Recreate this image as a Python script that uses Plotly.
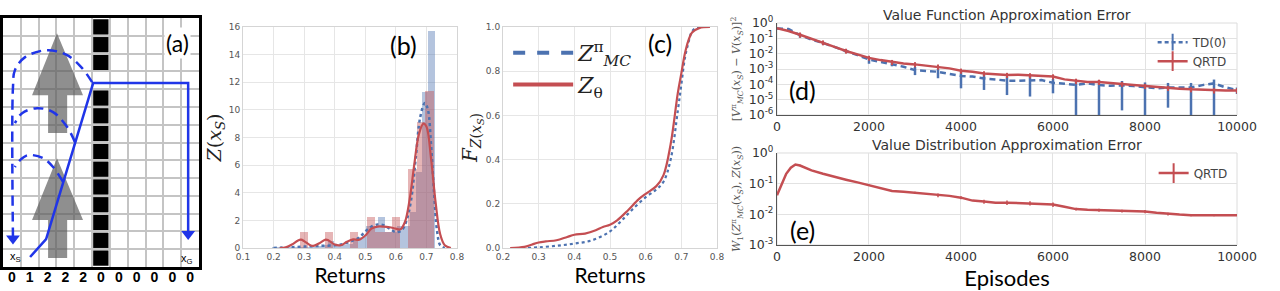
import plotly.graph_objects as go

# ---------------- (a) windy gridworld ----------------
grid_cols = 11
grid_rows = 14
wind = ["0", "1", "2", "2", "2", "0", "0", "0", "0", "0", "0"]
wall_column = 5
wall_open_row = 10

wind_arrow_x = [1.63, 3.03, 4.49, 3.6, 3.6, 2.53, 2.53, 1.63]
wind_arrow1_y = [9.66, 13.15, 9.66, 9.66, 7.53, 7.53, 9.66, 9.66]
wind_arrow2_y = [2.64, 6.12, 2.64, 2.64, 0.5, 0.5, 2.64, 2.64]

safe_path_x = [1.52, 2.42, 5.06, 10.39, 10.39]
safe_path_y = [0.56, 1.57, 10.34, 10.34, 1.85]
loop1_x = [5.0, 4.44, 3.6, 2.47, 1.24, 0.67, 0.56, 0.56]
loop1_y = [10.39, 11.18, 11.91, 12.19, 11.8, 11.07, 10.11, 1.6]
loop2_x = [4.04, 3.6, 2.81, 1.91, 1.07, 0.67]
loop2_y = [7.02, 7.87, 8.71, 8.93, 8.65, 8.09]
loop3_x = [3.37, 2.81, 2.25, 1.4, 0.96, 0.67]
loop3_y = [4.78, 5.62, 6.12, 6.29, 6.01, 5.62]
start_label = (0.7, 0.56)
goal_label = (10.34, 0.45)

# ---------------- (b) histogram + density ----------------
red_bar_x = [0.2995, 0.3815, 0.4635, 0.5185, 0.5455, 0.5725, 0.600, 0.6545, 0.682, 0.7095]
red_bar_h = [1.14, 1.14, 1.14, 2.27, 1.14, 1.14, 2.27, 5.7, 9.1, 11.35]
red_bar_w = 0.0273
blue_bar_x = [0.2043, 0.2248, 0.2453, 0.2658, 0.2863, 0.3068, 0.3273, 0.3478, 0.3683,
              0.3888, 0.4093, 0.4298, 0.4503, 0.4708, 0.4913, 0.5118, 0.5323, 0.5528,
              0.5733, 0.5938, 0.6143, 0.6348, 0.6553, 0.6758, 0.6963, 0.7168]
blue_bar_h = [0.05, 0.05, 0.05, 0.05, 0.05, 0.1, 0.1, 0.15, 0.2, 0.5, 0.25, 0.2, 0.3,
              0.55, 0.8, 1.6, 1.6, 2.25, 1.15, 1.15, 1.6, 1.6, 2.6, 5.5, 11.3, 15.7]
blue_bar_w = 0.0205

kde_red_x = [0.22, 0.24, 0.26, 0.28, 0.29, 0.30, 0.32, 0.33, 0.35, 0.37, 0.38, 0.40, 0.42,
             0.44, 0.46, 0.48, 0.50, 0.52, 0.54, 0.56, 0.58, 0.60, 0.615, 0.63, 0.645,
             0.66, 0.675, 0.69, 0.70, 0.715, 0.73, 0.745, 0.76, 0.78]
kde_red_y = [0.0, 0.05, 0.25, 0.55, 0.6, 0.5, 0.2, 0.15, 0.35, 0.6, 0.55, 0.25, 0.2,
             0.45, 0.62, 0.6, 0.9, 1.4, 1.55, 1.55, 1.5, 1.4, 1.35, 1.9, 3.5,
             6.0, 8.2, 9.0, 8.8, 6.5, 3.3, 1.0, 0.2, 0.0]
kde_blue_x = [0.20, 0.25, 0.30, 0.35, 0.40, 0.43, 0.46, 0.48, 0.50, 0.52, 0.54, 0.56,
              0.58, 0.60, 0.62, 0.635, 0.65, 0.665, 0.68, 0.695, 0.705, 0.715, 0.725,
              0.735, 0.745, 0.76]
kde_blue_y = [0.0, 0.05, 0.1, 0.15, 0.2, 0.3, 0.55, 0.75, 1.2, 1.55, 1.7, 1.65,
              1.4, 1.15, 1.3, 2.0, 3.5, 6.5, 9.5, 10.5, 10.0, 7.5, 4.0,
              1.2, 0.2, 0.0]

# ---------------- (c) CDFs ----------------
cdf_red_x = [0.22, 0.26, 0.28, 0.30, 0.32, 0.35, 0.38, 0.40, 0.43, 0.46, 0.48, 0.50, 0.52,
             0.55, 0.58, 0.60, 0.63, 0.65, 0.67, 0.69, 0.70, 0.71, 0.72, 0.73, 0.75, 0.78]
cdf_red_y = [0.0, 0.005, 0.015, 0.025, 0.03, 0.035, 0.05, 0.06, 0.065, 0.08, 0.095, 0.105,
             0.125, 0.17, 0.22, 0.245, 0.28, 0.33, 0.47, 0.7, 0.79, 0.88, 0.94, 0.975,
             0.995, 1.0]
cdf_blue_x = [0.27, 0.30, 0.35, 0.40, 0.45, 0.50, 0.53, 0.56, 0.60, 0.63, 0.65, 0.67, 0.69,
              0.70, 0.71, 0.72, 0.73, 0.745, 0.78]
cdf_blue_y = [0.0, 0.003, 0.01, 0.02, 0.035, 0.075, 0.12, 0.17, 0.23, 0.265, 0.3, 0.4,
              0.62, 0.74, 0.86, 0.93, 0.98, 1.0, 1.0]

# ---------------- (d) value function error ----------------
episodes = [i * 250 for i in range(41)]
td0_err = [0.43, 0.40, 0.16, 0.083, 0.05, 0.028, 0.015, 0.008, 0.0042, 0.003, 0.0021,
           0.0014, 0.00085, 0.00076, 0.00066, 0.00047, 0.00035, 0.00032, 0.00024,
           0.00021, 0.00017, 0.00017, 0.00019, 0.00019, 0.000126, 0.000104, 0.000094,
           0.000115, 0.000089, 0.000081, 0.000085, 0.000077, 0.000063, 0.000055,
           0.000063, 0.000063, 0.000063, 0.000089, 0.000115, 0.000063, 0.000043]
qrtd_err = [0.45, 0.30, 0.17, 0.096, 0.053, 0.028, 0.015, 0.0088, 0.0053, 0.0038, 0.0028,
            0.0023, 0.002, 0.0017, 0.0014, 0.0011, 0.00076, 0.00066, 0.00051, 0.00047,
            0.0004, 0.00042, 0.00038, 0.00035, 0.00032, 0.00021, 0.000163, 0.00014,
            0.00014, 0.000115, 0.000104, 0.000089, 0.000077, 0.000063, 0.000057,
            0.000052, 0.000047, 0.000043, 0.000039, 0.000039, 0.000039]
# error bars every 500 episodes (0, 500, ..., 10000)
td0_bar_up = [0.0, 0.05, 0.012, 0.004, 0.0015, 0.0006, 0.0005, 0.0004, 0.0004, 0.0002,
              0.00015, 0.00018, 0.0001, 0.0001, 0.0001, 0.00008, 0.00007, 0.00006,
              0.00006, 0.00009, 0.00002]
td0_bar_down = [0.0, 0.05, 0.012, 0.004, 0.002, 0.0006, 0.00045, 0.00041, 0.000295,
                0.000197, 0.00015, 0.000174, 0.0001, 0.0000939, 0.0000889, 0.000083,
                0.0000629, 0.00006, 0.0000629, 0.0001149, 0.00002]
qrtd_bar_up = [0.0, 0.07, 0.02, 0.006, 0.002, 0.0011, 0.0008, 0.00056, 0.0003, 0.0002,
               0.00016, 0.00015, 0.00013, 0.00007, 0.00006, 0.00004, 0.00003, 0.000023,
               0.000019, 0.000016, 0.000016]
qrtd_bar_down = [0.0, 0.06, 0.018, 0.005, 0.0018, 0.001, 0.0007, 0.0005, 0.00027, 0.00018,
                 0.00014, 0.00013, 0.00011, 0.00006, 0.00005, 0.000035, 0.000027, 0.00002,
                 0.000017, 0.000014, 0.000014]

# ---------------- (e) value distribution error ----------------
episodes_e = [0, 100, 200, 300, 400, 500, 750, 1000, 1250, 1500, 1750, 2000, 2250, 2500,
              2750, 3000, 3250, 3500, 3750, 4000, 4250, 4500, 4750, 5000, 5250, 5500,
              5750, 6000, 6250, 6500, 6750, 7000, 7250, 7500, 7750, 8000, 8250, 8500,
              8750, 9000, 9250, 9500, 9750, 10000]
w1_err = [0.042, 0.10, 0.21, 0.33, 0.42, 0.39, 0.27, 0.21, 0.166, 0.135, 0.11, 0.089,
          0.069, 0.058, 0.054, 0.05, 0.048, 0.042, 0.04, 0.035, 0.028, 0.026, 0.024,
          0.024, 0.023, 0.023, 0.021, 0.021, 0.0177, 0.0148, 0.014, 0.0137, 0.0133,
          0.0127, 0.0127, 0.0124, 0.0112, 0.0102, 0.0098, 0.0094, 0.0094, 0.0095,
          0.0095, 0.0094]
w1_bar = [0, 0, 0, 0, 0, 0.02, 0, 0.01, 0, 0.007, 0, 0.005, 0, 0.004, 0, 0.004, 0, 0.006,
          0, 0.004, 0, 0.004, 0, 0.004, 0, 0.0035, 0, 0.0035, 0, 0.0015, 0, 0.0015, 0,
          0.0013, 0, 0.0015, 0, 0.001, 0, 0.0008, 0, 0.0008, 0, 0.0006]

BLUE = "#4C72B0"
RED = "#C44E52"
PATH = "#2035e8"
LABEL_FONT = "Lato"

fig = go.Figure()

# ---- (a) traces ----
for ay in (wind_arrow1_y, wind_arrow2_y):
    fig.add_trace(go.Scatter(x=wind_arrow_x, y=ay, fill="toself", mode="lines",
                             line=dict(width=0, color="rgba(0,0,0,0)"),
                             fillcolor="rgba(90,90,90,0.68)", showlegend=False,
                             hoverinfo="skip", xaxis="x", yaxis="y"))
for lx, ly in ((loop1_x, loop1_y), (loop2_x, loop2_y), (loop3_x, loop3_y)):
    fig.add_trace(go.Scatter(x=lx, y=ly, mode="lines",
                             line=dict(color=PATH, width=2.5, dash="10px,6px",
                                       shape="spline", smoothing=1.0),
                             showlegend=False, xaxis="x", yaxis="y"))
fig.add_trace(go.Scatter(x=safe_path_x, y=safe_path_y, mode="lines",
                         line=dict(color=PATH, width=2.5), showlegend=False,
                         xaxis="x", yaxis="y"))
fig.add_trace(go.Scatter(x=[safe_path_x[-1], loop1_x[-1]], y=[safe_path_y[-1], loop1_y[-1]],
                         mode="markers",
                         marker=dict(symbol="triangle-down", size=12, color=PATH),
                         showlegend=False, xaxis="x", yaxis="y"))

# ---- (b) traces ----
fig.add_trace(go.Bar(x=blue_bar_x, y=blue_bar_h, width=blue_bar_w,
                     marker=dict(color="rgba(76,114,176,0.42)", line=dict(width=0)),
                     showlegend=False, xaxis="x2", yaxis="y2"))
fig.add_trace(go.Bar(x=red_bar_x, y=red_bar_h, width=red_bar_w,
                     marker=dict(color="rgba(196,78,82,0.42)", line=dict(width=0)),
                     showlegend=False, xaxis="x2", yaxis="y2"))
fig.add_trace(go.Scatter(x=kde_blue_x, y=kde_blue_y, mode="lines",
                         line=dict(color=BLUE, width=2.5, dash="dot", shape="spline"),
                         showlegend=False, xaxis="x2", yaxis="y2"))
fig.add_trace(go.Scatter(x=kde_red_x, y=kde_red_y, mode="lines",
                         line=dict(color=RED, width=2.2, shape="spline"),
                         showlegend=False, xaxis="x2", yaxis="y2"))

# ---- (c) traces ----
fig.add_trace(go.Scatter(x=cdf_blue_x, y=cdf_blue_y, mode="lines",
                         line=dict(color=BLUE, width=2.2, dash="dot", shape="spline"),
                         showlegend=False, xaxis="x3", yaxis="y3"))
fig.add_trace(go.Scatter(x=cdf_red_x, y=cdf_red_y, mode="lines",
                         line=dict(color=RED, width=2.2, shape="spline"),
                         showlegend=False, xaxis="x3", yaxis="y3"))
fig.add_trace(go.Scatter(x=[None], y=[None], mode="lines",
                         name="<i>Z</i><sup>π</sup><sub><i>MC</i></sub>",
                         line=dict(color=BLUE, width=4, dash="dash"),
                         legend="legend3", xaxis="x3", yaxis="y3"))
fig.add_trace(go.Scatter(x=[None], y=[None], mode="lines",
                         name="<i>Z</i><sub>θ</sub>",
                         line=dict(color=RED, width=4),
                         legend="legend3", xaxis="x3", yaxis="y3"))

# ---- (d) traces ----
def bars_full(bar_list):
    return [bar_list[i // 2] if i % 2 == 0 else 0.0 for i in range(len(episodes))]

fig.add_trace(go.Scatter(x=episodes, y=td0_err, mode="lines",
                         line=dict(color=BLUE, width=2.5, dash="6px,4px"),
                         error_y=dict(type="data", symmetric=False,
                                      array=bars_full(td0_bar_up),
                                      arrayminus=bars_full(td0_bar_down),
                                      color=BLUE, thickness=2.5, width=0),
                         showlegend=False, xaxis="x4", yaxis="y4"))
fig.add_trace(go.Scatter(x=episodes, y=qrtd_err, mode="lines",
                         line=dict(color=RED, width=2.5),
                         error_y=dict(type="data", symmetric=False,
                                      array=bars_full(qrtd_bar_up),
                                      arrayminus=bars_full(qrtd_bar_down),
                                      color=RED, thickness=2, width=0),
                         showlegend=False, xaxis="x4", yaxis="y4"))
fig.add_trace(go.Scatter(x=[None], y=[None], mode="lines+markers", name="TD(0)",
                         line=dict(color=BLUE, width=2.5, dash="4px,3px"),
                         marker=dict(symbol="line-ns-open", size=12,
                                     line=dict(color=BLUE, width=2)),
                         legend="legend", xaxis="x4", yaxis="y4"))
fig.add_trace(go.Scatter(x=[None], y=[None], mode="lines+markers", name="QRTD",
                         line=dict(color=RED, width=2.5),
                         marker=dict(symbol="line-ns-open", size=14,
                                     line=dict(color=RED, width=2)),
                         legend="legend", xaxis="x4", yaxis="y4"))

# ---- (e) traces ----
fig.add_trace(go.Scatter(x=episodes_e, y=w1_err, mode="lines",
                         line=dict(color=RED, width=2.5),
                         error_y=dict(type="data", array=w1_bar, color=RED,
                                      thickness=1.5, width=0),
                         showlegend=False, xaxis="x5", yaxis="y5"))
fig.add_trace(go.Scatter(x=[None], y=[None], mode="lines+markers", name="QRTD",
                         line=dict(color=RED, width=2.5),
                         marker=dict(symbol="line-ns-open", size=14,
                                     line=dict(color=RED, width=2)),
                         legend="legend2", xaxis="x5", yaxis="y5"))

# ---- shapes: wall blocks in (a), frames for (d), (e) ----
shapes = []
for r in range(grid_rows):
    if r == wall_open_row:
        continue
    shapes.append(dict(type="rect", xref="x", yref="y", layer="below",
                       x0=wall_column + 0.06, x1=wall_column + 0.92,
                       y0=r + 0.07, y1=r + 0.93,
                       fillcolor="black", line=dict(width=0)))
for ax, ya in (("x4", "y4"), ("x5", "y5")):
    shapes.append(dict(type="rect", xref=ax + " domain", yref=ya + " domain",
                       x0=0, x1=1, y0=0, y1=1, layer="below",
                       line=dict(color="#dcdcdc", width=1)))

tick_font_small = dict(family="DejaVu Sans", size=9, color="#555")
tick_font_big = dict(family="DejaVu Sans", size=12.5, color="#333")
grid_light = "#e6e6e6"

log_ticks_d = [1e-6, 1e-5, 1e-4, 1e-3, 1e-2, 1e-1, 1]
log_text_d = ["10<sup>-6</sup>", "10<sup>-5</sup>", "10<sup>-4</sup>", "10<sup>-3</sup>",
              "10<sup>-2</sup>", "10<sup>-1</sup>", "10<sup>0</sup>"]
log_ticks_e = [1e-3, 1e-2, 1e-1, 1]
log_text_e = ["10<sup>-3</sup>", "10<sup>-2</sup>", "10<sup>-1</sup>", "10<sup>0</sup>"]


def label(x, y, text, size=25, family=LABEL_FONT, color="black"):
    return dict(x=x, y=y, xref="paper", yref="paper", text=text, showarrow=False,
                xanchor="center", yanchor="middle",
                font=dict(family=family, size=size, color=color))


fig.update_layout(
    width=1280, height=291,
    margin=dict(l=0, r=0, t=0, b=0, autoexpand=False),
    paper_bgcolor="white", plot_bgcolor="white",
    bargap=0, barmode="overlay",
    shapes=shapes,
    # (a)
    xaxis=dict(domain=[0.00234, 0.1555], anchor="y", range=[0, grid_cols], showgrid=False,
               zeroline=False, tickmode="array", automargin=False,
               tickvals=[c + 0.5 for c in range(grid_cols)], ticktext=wind,
               tickfont=dict(family="Liberation Sans", size=14, color="black", weight="bold"),
               ticks="", ticklabelstandoff=-5, showline=True, mirror=True,
               linecolor="black", linewidth=3,
               minor=dict(showgrid=True, tick0=0, dtick=1, gridcolor="#c4c4c4",
                          gridwidth=1.8, ticks="")),
    yaxis=dict(domain=[0.0825, 0.9381], anchor="x", range=[0, grid_rows], dtick=1,
               showgrid=True, gridcolor="#c4c4c4", gridwidth=1.8, zeroline=False,
               showticklabels=False, ticks="", showline=True, mirror=True,
               linecolor="black", linewidth=3, automargin=False),
    # (b)
    xaxis2=dict(domain=[0.18984, 0.35703], anchor="y2", range=[0.1, 0.8], dtick=0.1,
                tick0=0.1, tickformat=".1f", gridcolor=grid_light, zeroline=False,
                showline=True, mirror=True, linecolor="#d5d5d5", tickfont=tick_font_small,
                ticks="", automargin=False,
                title=dict(text="Returns", font=dict(family=LABEL_FONT, size=21, color="black"),
                           standoff=5)),
    yaxis2=dict(domain=[0.14777, 0.90722], anchor="x2", range=[0, 16], dtick=2,
                gridcolor=grid_light, zeroline=False, showline=True, mirror=True,
                linecolor="#d5d5d5", tickfont=tick_font_small, ticks="", automargin=False,
                title=dict(text="<i>Z</i>(<i>x</i><sub><i>S</i></sub>)",
                           font=dict(family="DejaVu Serif", size=19, color="#222"),
                           standoff=2)),
    # (c)
    xaxis3=dict(domain=[0.39297, 0.56016], anchor="y3", range=[0.2, 0.8], dtick=0.1,
                tick0=0.2, tickformat=".1f", gridcolor=grid_light, zeroline=False,
                showline=True, mirror=True, linecolor="#d5d5d5", tickfont=tick_font_small,
                ticks="", automargin=False,
                title=dict(text="Returns", font=dict(family=LABEL_FONT, size=21, color="black"),
                           standoff=5)),
    yaxis3=dict(domain=[0.14777, 0.90722], anchor="x3", range=[0, 1], dtick=0.2,
                tickformat=".1f", gridcolor=grid_light, zeroline=False, showline=True,
                mirror=True, linecolor="#d5d5d5", tickfont=tick_font_small, ticks="",
                automargin=False,
                title=dict(text="<i>F</i><sub><i>Z</i>(<i>x</i><sub><i>S</i></sub>)</sub>",
                           font=dict(family="DejaVu Serif", size=20, color="#222"),
                           standoff=2)),
    # (d)
    xaxis4=dict(domain=[0.60703, 0.96641], anchor="y4", range=[0, 10000], dtick=2000,
                tickformat="d", gridcolor="#e2e2e2", zeroline=False, showline=True,
                linecolor="#555", linewidth=1.2, tickfont=tick_font_big, ticks="",
                automargin=False),
    yaxis4=dict(domain=[0.60481, 0.92096], anchor="x4", type="log", range=[-6, 0],
                tickmode="array", tickvals=log_ticks_d, ticktext=log_text_d,
                gridcolor="#e2e2e2", zeroline=False, showline=True, linecolor="#555",
                linewidth=1.2, tickfont=tick_font_big, ticks="", automargin=False,
                title=dict(text="[<i>V</i><sup>π</sup><sub><i>MC</i></sub>(<i>x</i><sub><i>S</i></sub>) − <i>V</i>(<i>x</i><sub><i>S</i></sub>)]<sup>2</sup>",
                           font=dict(family="DejaVu Serif", size=11, color="#555"),
                           standoff=5)),
    # (e)
    xaxis5=dict(domain=[0.60703, 0.96641], anchor="y5", range=[0, 10000], dtick=2000,
                tickformat="d", gridcolor="#e2e2e2", zeroline=False, showline=True,
                linecolor="#555", linewidth=1.2, tickfont=tick_font_big, ticks="",
                automargin=False,
                title=dict(text="Episodes", font=dict(family=LABEL_FONT, size=22, color="black"),
                           standoff=2)),
    yaxis5=dict(domain=[0.15808, 0.47423], anchor="x5", type="log", range=[-3, 0],
                tickmode="array", tickvals=log_ticks_e, ticktext=log_text_e,
                gridcolor="#e2e2e2", zeroline=False, showline=True, linecolor="#555",
                linewidth=1.2, tickfont=tick_font_big, ticks="", automargin=False,
                title=dict(text="<i>W</i><sub>1</sub>(<i>Z</i><sup>π</sup><sub><i>MC</i></sub>(<i>x</i><sub><i>S</i></sub>), <i>Z</i>(<i>x</i><sub><i>S</i></sub>))",
                           font=dict(family="DejaVu Serif", size=11, color="#555"),
                           standoff=5)),
    legend=dict(x=0.963, y=0.905, xanchor="right", yanchor="top",
                bgcolor="rgba(0,0,0,0)", font=dict(family="DejaVu Sans", size=12, color="#444"),
                tracegroupgap=0, itemwidth=30),
    legend2=dict(x=0.963, y=0.455, xanchor="right", yanchor="top",
                 bgcolor="rgba(0,0,0,0)", font=dict(family="DejaVu Sans", size=12, color="#444"),
                 itemwidth=30),
    legend3=dict(x=0.397, y=0.89, xanchor="left", yanchor="top",
                 bgcolor="rgba(0,0,0,0)", font=dict(family="DejaVu Serif", size=22, color="#222"),
                 itemwidth=60, tracegroupgap=0),
    annotations=[
        dict(x=9.78, y=12.6, xref="x", yref="y", text="(a)", showarrow=False,
             xanchor="center", yanchor="middle",
             font=dict(family=LABEL_FONT, size=23, color="black"), bgcolor="white"),
        dict(x=start_label[0], y=start_label[1], xref="x", yref="y",
             text="x<sub>S</sub>", showarrow=False, xanchor="center", yanchor="middle",
             font=dict(family="Liberation Sans", size=11, color="black")),
        dict(x=goal_label[0], y=goal_label[1], xref="x", yref="y",
             text="x<sub>G</sub>", showarrow=False, xanchor="center", yanchor="middle",
             font=dict(family="Liberation Sans", size=11, color="black")),
        label(0.315, 0.845, "(b)"),
        label(0.5156, 0.852, "(c)"),
        label(0.6266, 0.691, "(d)"),
        label(0.6266, 0.2096, "(e)"),
        label(0.7867, 0.948, "Value Function Approximation Error", size=14,
              family="DejaVu Sans", color="#333"),
        label(0.7867, 0.502, "Value Distribution Approximation Error", size=14,
              family="DejaVu Sans", color="#333"),
    ],
)

fig.write_html("out.html")
